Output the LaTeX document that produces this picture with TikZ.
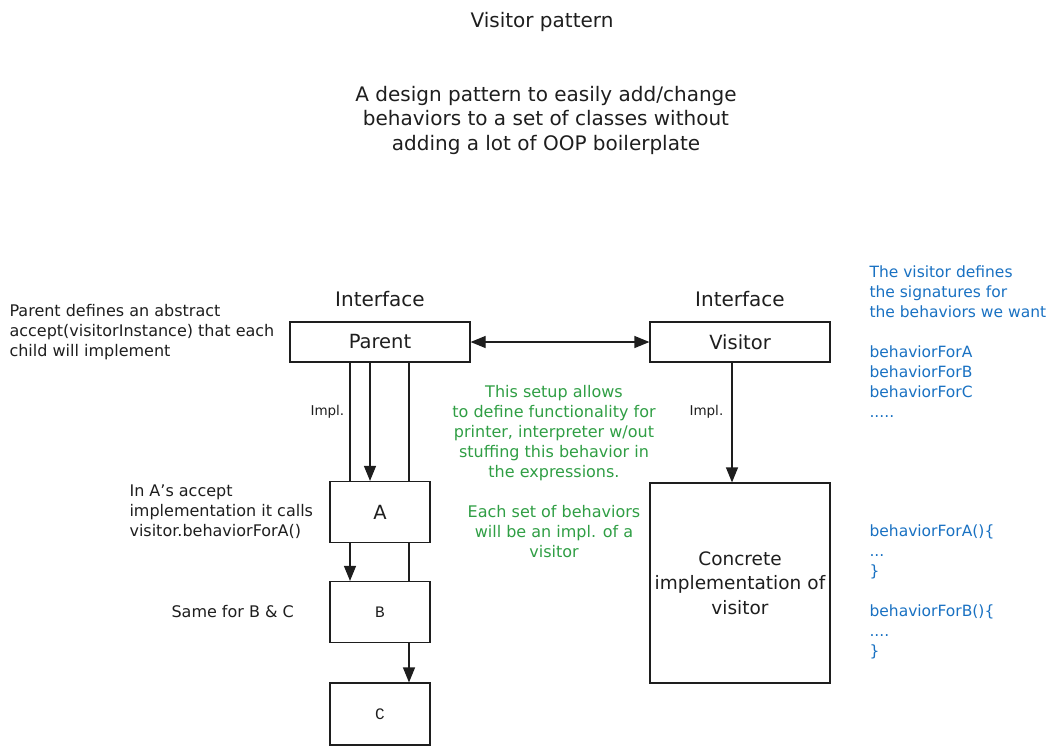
\documentclass[tikz,border=0pt]{standalone}
\usepackage{fontspec}
\setmainfont{DejaVu Sans}
\setmonofont{Liberation Mono}
\usepackage{xcolor}
\usepackage{tikz}
\usetikzlibrary{arrows.meta,positioning,calc,backgrounds}
\definecolor{ink}{HTML}{1E1E1E}
\definecolor{inkgreen}{HTML}{2F9E44}
\definecolor{inkblue}{HTML}{1971C2}
\newcommand\bigtext{\fontsize{20}{24.5}\selectfont}
\newcommand\midtext{\fontsize{19.5}{22}\selectfont}
\newcommand\smalltext{\fontsize{16}{20}\selectfont}
\newcommand\bluetext{\fontsize{15.5}{20}\selectfont}
\newcommand\tinytext{\fontsize{13.5}{16}\selectfont}
\tikzset{%
        box/.style = { draw=ink, line width=1.2pt, fill=white, text=ink, font=\midtext },
      title/.style = { ink, font=\bigtext, align=center },
       note/.style = { ink, font=\smalltext, align=left, anchor=west },
      gnote/.style = { inkgreen, font=\smalltext, align=center },
      bnote/.style = { inkblue, font=\bluetext, align=left, anchor=west },
       impl/.style = { draw=ink, line width=1.2pt, -{Triangle[width=12pt,length=15pt]} },
       link/.style = { draw=ink, line width=1.2pt, {Triangle[width=12pt,length=15pt]}-{Triangle[width=12pt,length=15pt]} }
}
\begin{document}
\begin{tikzpicture}[x=1pt,y=-1pt]
  \useasboundingbox (0,0) rectangle (1056,753);

  \node[title] (heading) at (542,22) {Visitor pattern};
  \node[title] (summary) at (546,120) {A design pattern to easily add/change\\behaviors to a set of classes without\\adding a lot of OOP boilerplate};

  \node[box, minimum width=180pt, minimum height=40pt] (Parent) at (380,342) {Parent};
  \node[box, minimum width=180pt, minimum height=40pt] (Visitor) at (740,342) {Visitor};
  \node[title, above=11pt of Parent] (parentTag) {Interface};
  \node[title, above=11pt of Visitor] (visitorTag) {Interface};

  \node[box, minimum width=100pt, minimum height=61pt] (A) at (380,512) {A};
  \node[box, minimum width=100pt, minimum height=61pt, font=\ttfamily\smalltext] (B) at (380,612) {B};
  \node[box, minimum width=100pt, minimum height=62pt, font=\ttfamily\smalltext] (C) at (380,714) {C};
  \node[box, minimum width=180pt, minimum height=200pt, text width=178pt, inner xsep=1pt, align=center,
        font=\fontsize{18.5}{24.5}\selectfont] (Concrete) at (740,583) {Concrete\\implementation of\\visitor};

  \begin{scope}[on background layer]
    \draw[impl] ($(Parent.south)+(-10,0)$) -- ($(A.north)+(-10,0)$);
    \draw[impl] ($(Parent.south)+(-30,0)$) -- ($(B.north)+(-30,0)$);
    \draw[impl] ($(Parent.south)+(29,0)$) -- ($(C.north)+(29,0)$);
    \draw[impl] ($(Visitor.south)+(-8,0)$) -- ($(Concrete.north)+(-8,0)$);
  \end{scope}
  \draw[link] (Parent) -- (Visitor);

  \node[note, font=\tinytext] (implParent) at (307,412) {Impl.};
  \node[note, font=\tinytext] (implVisitor) at (686,412) {Impl.};

  \node[note] (parentNote) at (6,332) {Parent defines an abstract\\accept(visitorInstance) that each\\child will implement};
  \node[note] (aNote) at (126,512) {In A's accept\\implementation it calls\\visitor.behaviorForA()};
  \node[note] (bcNote) at (168,612) {Same for B \& C};

  \node[gnote] (setupNote) at (554,472) {This setup allows\\to define functionality for\\printer, interpreter w/out\\stuffing this behavior in\\the expressions.\\[20pt]Each set of behaviors\\will be an impl. of a\\visitor};

  \node[bnote] (visitorNote) at (866,342) {The visitor defines\\the signatures for\\the behaviors we want\\[20pt]behaviorForA\\behaviorForB\\behaviorForC\\.....};
  \node[bnote] (codeNote) at (866,592) {behaviorForA()\{\\...\\\}\\[20pt]behaviorForB()\{\\....\\\}};
\end{tikzpicture}
\end{document}
